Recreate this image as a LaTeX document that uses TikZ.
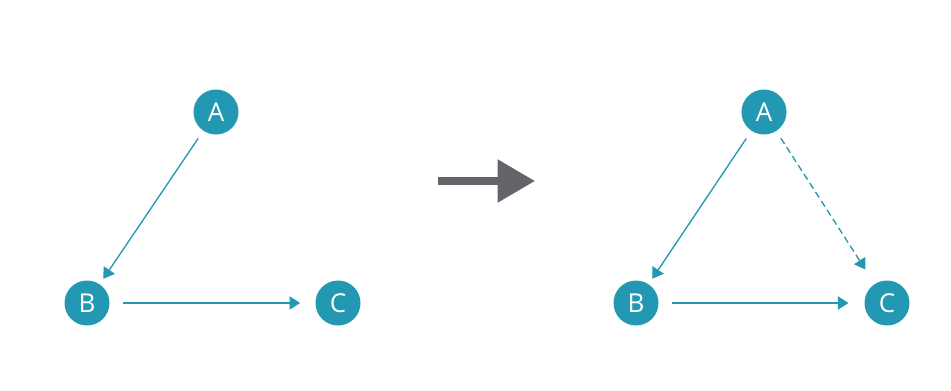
\documentclass[tikz,border=0pt]{standalone}
\usepackage{fontspec}
\setmainfont{Open Sans}
\usetikzlibrary{arrows.meta}
\definecolor{teal}{RGB}{35,152,178}
\definecolor{darkgrey}{RGB}{100,100,106}
\begin{document}
\begin{tikzpicture}[x=0.75pt,y=-0.75pt,
  vertex/.style={circle,fill=teal,text=white,minimum size=33.75pt,inner sep=0pt,outer sep=0pt,font=\fontsize{19.5}{19.5}\selectfont},
  link/.style={draw=teal,line width=1pt,-{Triangle[length=8pt,width=10pt]}},
  maybe/.style={link,dash pattern=on 5pt off 3pt}]
  \useasboundingbox[fill=white] (0,0) rectangle (951,390);
  % initial graph
  \node[vertex] (A1) at (216,112) {A};
  \node[vertex] (B1) at (87,303) {B};
  \node[vertex] (C1) at (338,303) {C};
  \draw[link,shorten <=7pt,shorten >=5pt] (A1) -- (B1);
  \draw[link,shorten <=10pt,shorten >=11.5pt] (B1) -- (C1);
  % transformation arrow
  \coordinate (s0) at (438,181);
  \coordinate (s1) at (499,181);
  \draw[darkgrey,line width=5.5pt,-{Triangle[length=28pt,width=31pt]}] (s0) -- (s1) -- ++(36,0);
  % resulting graph
  \node[vertex] (A2) at (764,112) {A};
  \node[vertex] (B2) at (636,303) {B};
  \node[vertex] (C2) at (887,303) {C};
  \draw[link,shorten <=7pt,shorten >=5pt] (A2) -- (B2);
  \draw[link,shorten <=10pt,shorten >=12pt] (B2) -- (C2);
  \draw[maybe,shorten <=6.5pt,shorten >=13pt] (A2) -- (C2);
\end{tikzpicture}
\end{document}
